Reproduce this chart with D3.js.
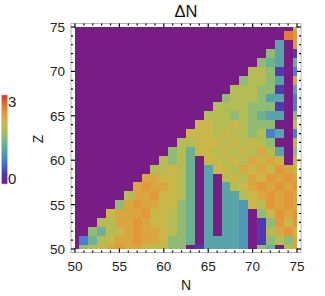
<!DOCTYPE html>
<html><head><meta charset="utf-8">
<script src="https://cdn.jsdelivr.net/npm/d3@7"></script>
<style>
body{margin:0;background:#fff;}
svg{display:block;font-family:"Liberation Sans",Arial,sans-serif;}
</style>
</head><body>
<svg id="chart" width="325" height="296"></svg>
<script>
// ---- data ----
const nValues = [50,51,52,53,54,55,56,57,58,59,60,61,62,63,64,65,66,67,68,69,70,71,72,73,74,75];
const zValues = [75,74,73,72,71,70,69,68,67,66,65,64,63,62,61,60,59,58,57,56,55,54,53,52,51,50];
// deltaN[i][j] : value at Z = zValues[i], N = nValues[j]
const deltaN = [
 [0,0,0,0,0,0,0,0,0,0,0,0,0,0,0,0,0,0,0,0,0,0,0,0,0,1.85],
 [0,0,0,0,0,0,0,0,0,0,0,0,0,0,0,0,0,0,0,0,0,0,0,0,2.6,2.4],
 [0,0,0,0,0,0,0,0,0,0,0,0,0,0,0,0,0,0,0,0,0,0,0,1.15,0,2.4],
 [0,0,0,0,0,0,0,0,0,0,0,0,0,0,0,0,0,0,0,0,0,0,1.6,1.15,0,0.35],
 [0,0,0,0,0,0,0,0,0,0,0,0,0,0,0,0,0,0,0,0,0,1.6,1.35,1.15,0,1.35],
 [0,0,0,0,0,0,0,0,0,0,0,0,0,0,0,0,0,0,0,0,1.85,1.85,1.6,0.35,0,0.8],
 [0,0,0,0,0,0,0,0,0,0,0,0,0,0,0,0,0,0,0,1.6,1.85,1.85,1.6,1.15,0,2.25],
 [0,0,0,0,0,0,0,0,0,0,0,0,0,0,0,0,0,0,1.85,1.85,1.85,1.6,1.6,0.35,0,1.15],
 [0,0,0,0,0,0,0,0,0,0,0,0,0,0,0,0,0,1.6,1.85,1.85,1.85,1.6,1.15,1.15,0,0.8],
 [0,0,0,0,0,0,0,0,0,0,0,0,0,0,0,0,1.85,1.85,1.85,1.85,1.6,1.6,1.6,0.35,0,0.8],
 [0,0,0,0,0,0,0,0,0,0,0,0,0,0,0,1.85,1.85,1.85,1.6,1.85,1.6,1.35,1.15,1.15,0,1.6],
 [0,0,0,0,0,0,0,0,0,0,0,0,0,0,2.05,2.05,1.85,1.85,2.05,1.85,1.6,1.6,1.6,0,0,1.85],
 [0,0,0,0,0,0,0,0,0,0,0,0,0,2.05,2.05,2.05,1.85,2.05,1.85,1.85,1.6,1.85,0.8,1.15,0,0.8],
 [0,0,0,0,0,0,0,0,0,0,0,0,1.85,1.85,2.05,2.05,2.05,1.85,2.05,1.85,2.05,1.85,1.6,0,0,1.85],
 [0,0,0,0,0,0,0,0,0,0,0,1.6,1.85,1.35,2.05,2.05,1.85,2.05,1.85,2.05,1.85,2.25,1.85,1.15,0,1.6],
 [0,0,0,0,0,0,0,0,0,0,1.85,1.6,1.85,1.35,0,2.05,2.05,1.85,2.05,1.85,2.25,2.05,2.25,2.05,0,2.05],
 [0,0,0,0,0,0,0,0,0,1.85,1.85,2.05,1.85,1.35,0,1.15,2.05,2.05,1.85,2.25,2.05,2.25,2.05,2.4,2.25,1.85],
 [0,0,0,0,0,0,0,0,2.25,2.25,2.05,2.05,1.85,1.35,0,1.15,0,1.85,2.05,1.85,2.25,2.05,2.4,2.25,2.4,2.25],
 [0,0,0,0,0,0,0,2.25,2.4,2.25,2.25,2.05,1.85,1.35,0,1.15,0,1.15,1.85,2.05,2.25,2.4,2.25,2.4,2.25,2.4],
 [0,0,0,0,0,0,1.85,2.25,2.25,2.4,2.05,2.05,1.85,1.35,0,1.15,0,1.15,1.15,1.85,2.05,2.25,2.4,2.25,2.4,2.25],
 [0,0,0,0,0,1.6,2.25,2.4,2.25,2.25,2.05,2.05,1.6,1.35,0,1.15,0,1.15,1.15,1.0,2.05,1.85,2.4,2.25,2.4,2.25],
 [0,0,0,0,2.05,2.25,2.25,2.25,2.4,2.05,2.05,1.85,1.6,1.35,0,1.15,0,1.15,1.15,1.0,0,1.6,2.05,2.4,2.25,2.4],
 [0,0,0,1.85,1.85,2.25,2.25,2.4,2.25,2.05,2.05,1.85,1.6,1.35,0,1.15,0,1.15,1.15,1.0,0,0.35,1.6,2.4,2.05,2.4],
 [0,0,1.6,1.35,1.85,2.05,2.25,2.4,2.25,2.25,2.05,1.85,1.6,1.35,0,1.15,0,1.15,1.15,1.0,0,0.35,1.85,2.25,2.4,2.05],
 [0,0.8,1.35,1.85,2.05,2.25,2.25,2.4,2.25,2.25,2.05,1.6,1.6,1.35,0,1.15,1.15,1.15,1.15,1.0,0,0.35,1.6,1.85,1.6,2.25],
 [0,1.6,1.85,2.05,2.25,2.4,2.25,2.25,2.05,1.85,1.85,1.6,1.6,0,0.35,1.15,1.15,1.15,1.15,1.0,0,1.6,1.35,0,1.85,2.25]
];
const xTickValues = [50,55,60,65,70,75];
const zTickValues = [50,55,60,65,70,75];
const legendTickValues = [0,3];
const colorDomain = [0,0.3,0.6,0.9,1.2,1.5,1.8,2.1,2.4,2.7,3.0];
const colorRange = ["#781c86","#5430b0","#4464c8","#4a8dc6","#5ba8a2","#80ba82","#aebe57","#d0b546","#e3963a","#e4702f","#d8312a"];

// ---- layout ----
const svg = d3.select("#chart");
const x = d3.scaleLinear().domain([50,75]).range([75,297]);
const y = d3.scaleLinear().domain([50,75]).range([249,27]);
const color = d3.scaleLinear().domain(colorDomain).range(colorRange).interpolate(d3.interpolateRgb).clamp(true);
const frame = {l:71, r:301, t:23.5, b:252.5};

// cells
const cells = [];
zValues.forEach((z,i)=>nValues.forEach((n,j)=>cells.push({n, z, v: deltaN[i][j]})));
svg.append("g").selectAll("rect").data(cells).join("rect")
  .attr("x", d=>x(Math.max(d.n-0.5,50)))
  .attr("width", d=>x(Math.min(d.n+0.5,75)) - x(Math.max(d.n-0.5,50)))
  .attr("y", d=>y(Math.min(d.z+0.5,75)))
  .attr("height", d=>y(Math.max(d.z-0.5,50)) - y(Math.min(d.z+0.5,75)))
  .attr("fill", d=>color(d.v))
  .attr("shape-rendering","crispEdges");

// frame
svg.append("rect").attr("x",frame.l).attr("y",frame.t)
  .attr("width",frame.r-frame.l).attr("height",frame.b-frame.t)
  .attr("fill","none").attr("stroke","#b4b4b4").attr("stroke-width",1);

// ticks
const minor = d3.range(50,76);
const tg = svg.append("g").attr("stroke","#000").attr("stroke-width",1.2);
minor.forEach(v=>{
  const len = v%5===0 ? 4 : 2;
  const xv = x(v), yv = y(v);
  tg.append("line").attr("x1",xv).attr("x2",xv).attr("y1",frame.b).attr("y2",frame.b-len);
  tg.append("line").attr("x1",xv).attr("x2",xv).attr("y1",frame.t).attr("y2",frame.t+len);
  tg.append("line").attr("y1",yv).attr("y2",yv).attr("x1",frame.l).attr("x2",frame.l+len);
  tg.append("line").attr("y1",yv).attr("y2",yv).attr("x1",frame.r).attr("x2",frame.r-len);
});

// tick labels
svg.append("g").selectAll("text").data(xTickValues).join("text")
  .attr("x",d=>x(d)).attr("y",270.5).attr("text-anchor","middle")
  .attr("font-size",13.5).attr("fill","#222").text(d=>d);
svg.append("g").selectAll("text").data(zTickValues).join("text")
  .attr("x",65).attr("y",d=>y(d)+5).attr("text-anchor","end")
  .attr("font-size",13.5).attr("fill","#222").text(d=>d);

// axis labels & title
svg.append("text").attr("x",186).attr("y",290).attr("text-anchor","middle")
  .attr("font-size",14).attr("fill","#222").text("N");
svg.append("text").attr("transform","translate(43,139) rotate(-90)").attr("text-anchor","middle")
  .attr("font-size",14).attr("fill","#222").text("Z");
svg.append("text").attr("x",186).attr("y",16.5).attr("text-anchor","middle")
  .attr("font-size",16.5).attr("fill","#111").text("ΔN");

// legend
const defs = svg.append("defs");
const grad = defs.append("linearGradient").attr("id","lg").attr("x1",0).attr("y1",1).attr("x2",0).attr("y2",0);
colorDomain.forEach((v,i)=>grad.append("stop").attr("offset",v/3).attr("stop-color",colorRange[i]));
const ly = d3.scaleLinear().domain([0,3]).range([184,95]);
svg.append("rect").attr("x",1.5).attr("y",ly(3)).attr("width",6).attr("height",ly(0)-ly(3))
  .attr("fill","url(#lg)").attr("stroke","#c8c8c8").attr("stroke-width",0.6);
svg.append("g").selectAll("text").data(legendTickValues).join("text")
  .attr("x",8).attr("y",d=>d===3 ? ly(d)+12 : ly(d)-0.5)
  .attr("font-size",15).attr("fill","#222").text(d=>d);
</script>
</body></html>
